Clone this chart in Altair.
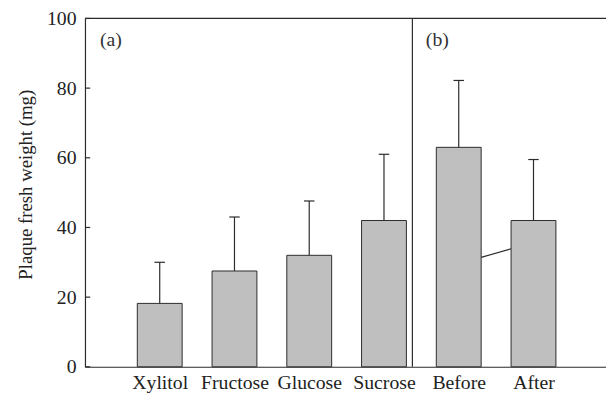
import altair as alt
import pandas as pd

categories = ["Xylitol", "Fructose", "Glucose", "Sucrose", "Before", "After"]
positions = [1, 2, 3, 4, 5, 6]
means = [18.2, 27.5, 32.0, 42.0, 63.0, 42.0]
errors = [11.8, 15.5, 15.6, 19.0, 19.2, 17.5]
y_ticks = [0, 20, 40, 60, 80, 100]
panel_labels = ["(a)", "(b)"]
panel_x = [0.2, 4.56]
panel_y = [93.8, 93.8]
divider_x = 4.38
link_x = [5.3, 5.7]
link_y = [31.4, 33.9]

FONT = "Liberation Serif"
DARK = "#2b2b2b"
TXT = "#222"
FS = 20
XMAX = 6.97
HALF = 0.3
CAP = 0.07

df = pd.DataFrame({"cat": categories, "pos": positions, "mean": means, "err": errors})
df["lo"] = df["pos"] - HALF
df["hi"] = df["pos"] + HALF
df["top"] = df["mean"] + df["err"]
df["cl"] = df["pos"] - CAP
df["cr"] = df["pos"] + CAP

label_expr = "[" + ",".join(["''"] + ["'" + c + "'" for c in categories]) + "][datum.value]"

xscale = alt.Scale(domain=[0, XMAX], nice=False, zero=False)
yscale = alt.Scale(domain=[0, 100], nice=False)

base = alt.Chart(df)

bars = base.mark_rect(fill="#bfbfbf", stroke=DARK, strokeWidth=1).encode(
    x=alt.X("lo:Q", scale=xscale, axis=alt.Axis(
        values=positions, labelExpr=label_expr, ticks=False, grid=False,
        labelFont=FONT, labelFontSize=FS, labelColor=TXT, labelPadding=6,
        labelOverlap=False, labelFlush=False,
        domainColor=DARK, domainWidth=1.2, title=None)),
    x2="hi:Q",
    y=alt.Y("mean:Q", scale=yscale, axis=alt.Axis(
        values=y_ticks, ticks=False, grid=False, labelFont=FONT, labelFontSize=FS,
        labelColor=TXT, labelPadding=9, domainColor=DARK, domainWidth=1.2,
        labelFlush=False, labelOverlap=False,
        title="Plaque fresh weight (mg)", titleFont=FONT, titleFontSize=19,
        titleFontWeight="normal", titleColor=TXT, titlePadding=11, titleY=168)),
    y2=alt.datum(0),
)

err_line = base.mark_rule(color=DARK, strokeWidth=1.2).encode(
    x="pos:Q", y="mean:Q", y2="top:Q")
err_cap = base.mark_rule(color=DARK, strokeWidth=1.2).encode(
    x="cl:Q", x2="cr:Q", y="top:Q")

ticks_df = pd.DataFrame({"v": y_ticks})
yticks = alt.Chart(ticks_df).mark_rule(color=DARK, strokeWidth=1.2).encode(
    x=alt.datum(0), x2=alt.datum(0.07), y="v:Q")

top_rule = alt.Chart(pd.DataFrame({"v": [100]})).mark_rule(color=DARK, strokeWidth=1.2).encode(
    x=alt.datum(0), x2=alt.datum(XMAX), y="v:Q")

divider = alt.Chart(pd.DataFrame({"v": [divider_x]})).mark_rule(color=DARK, strokeWidth=1.2).encode(
    x="v:Q", y=alt.datum(0), y2=alt.datum(100))

link = alt.Chart(pd.DataFrame({"x": link_x, "y": link_y})).mark_line(color=DARK, strokeWidth=1.2).encode(
    x="x:Q", y="y:Q")

labels = alt.Chart(pd.DataFrame({"t": panel_labels, "x": panel_x, "y": panel_y})).mark_text(
    font=FONT, fontSize=FS, color="#333", align="left", baseline="middle").encode(
    x="x:Q", y="y:Q", text="t:N")

chart = alt.layer(bars, err_line, err_cap, yticks, top_rule, divider, link, labels).properties(
    width=528, height=353, autosize=alt.AutoSizeParams(type="none"),
    padding={"left": 78, "top": 8, "right": 0, "bottom": 26},
).configure_view(stroke=None)

chart.save("out.html", embed_options={"renderer": "svg", "actions": False})
